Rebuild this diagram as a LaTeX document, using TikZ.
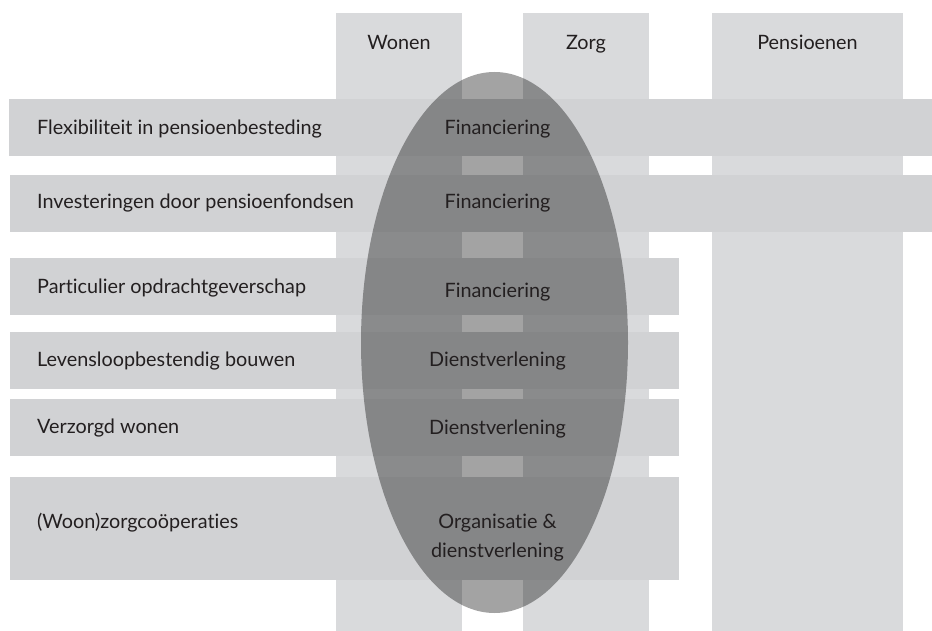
\documentclass[tikz,border=0pt]{standalone}
\usepackage{fontspec}
\setmainfont{Lato}[Ligatures=NoCommon]
\definecolor{colgray}{HTML}{D9DADC}
\definecolor{rowgray}{HTML}{D1D2D4}
\definecolor{ink}{HTML}{231F20}
\begin{document}
\begin{tikzpicture}[x=1pt,y=-1pt,
  colbar/.style={fill=colgray},
  rowbar/.style={fill=rowgray},
  lbl/.style={text=ink, font=\fontsize{19.8}{29}\selectfont, inner sep=0pt},
  lleft/.style={lbl, anchor=base west},
  lmid/.style={lbl, anchor=base},
  overlap/.style={fill=black, fill opacity=0.36}]
\useasboundingbox (0,0) rectangle (932,631);
% columns
\fill[colbar] (336,13) rectangle (462,631);
\fill[colbar] (523,13) rectangle (649,631);
\fill[colbar] (712,13) rectangle (903,631);
% rows
\fill[rowbar] (9,99) rectangle (932,156);
\fill[rowbar] (10,175) rectangle (932,232);
\fill[rowbar] (10,258) rectangle (679,315);
\fill[rowbar] (10,332) rectangle (679,389);
\fill[rowbar] (10,399) rectangle (679,456);
\fill[rowbar] (10,477) rectangle (679,580);
% shared area
\fill[overlap] (494.5,342.5) ellipse [x radius=133.5, y radius=270.5];
% column headings
\node[lmid] (wonen) at (399,50) {Wonen};
\node[lmid] (zorg) at (586,50) {Zorg};
\node[lmid] (pens) at (807.5,50) {Pensioenen};
% row labels
\node[lleft] (r1) at (37,135) {Flexibiliteit in pensioenbesteding};
\node[lleft] (r2) at (37,209) {Investeringen door pensioenfondsen};
\node[lleft] (r3) at (37,293.5) {Particulier opdrachtgeverschap};
\node[lleft] (r4) at (37,366.5) {Levensloopbestendig bouwen};
\node[lleft] (r5) at (37,433.5) {Verzorgd wonen};
\node[lleft] (r6) at (37,528.5) {(Woon)zorgcoöperaties};
% labels inside the shared area
\node[lmid] (e1) at (497.5,135) {Financiering};
\node[lmid] (e2) at (497.5,209) {Financiering};
\node[lmid] (e3) at (497.5,297.5) {Financiering};
\node[lmid] (e4) at (497.5,366.5) {Dienstverlening};
\node[lmid] (e5) at (497.5,434.5) {Dienstverlening};
\node[lbl, anchor=base, align=center] (e6) at (497.5,557.5) {Organisatie \&\\dienstverlening};
\end{tikzpicture}
\end{document}
